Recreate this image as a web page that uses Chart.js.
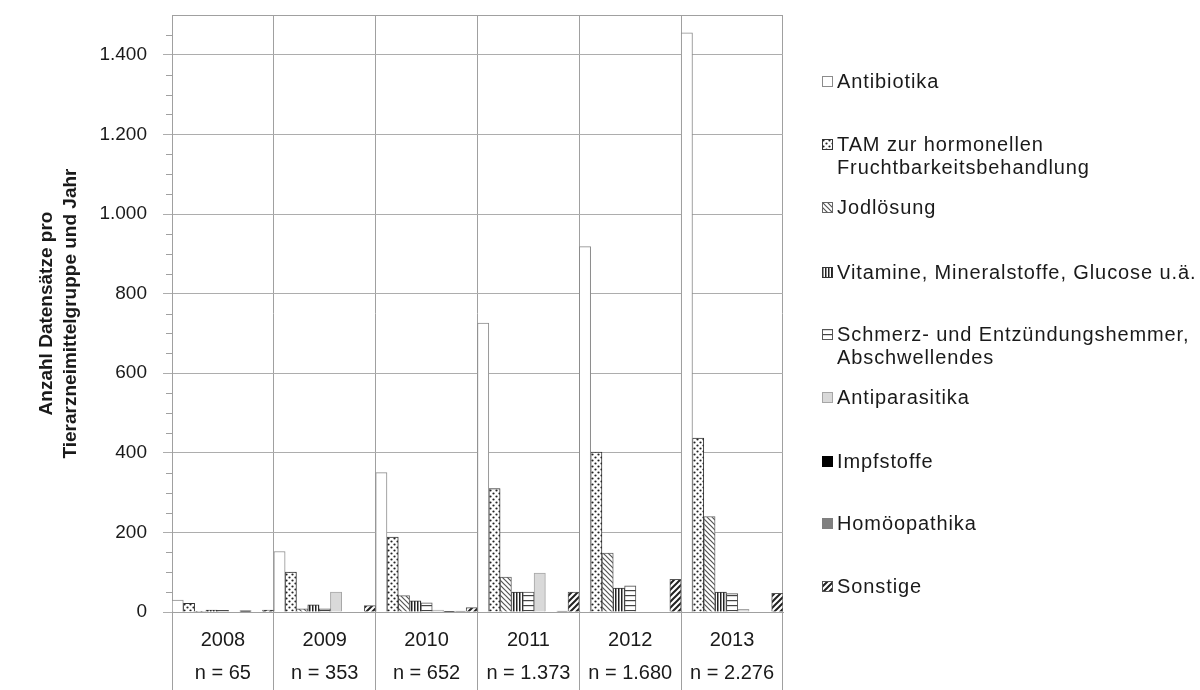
<!DOCTYPE html>
<html><head><meta charset="utf-8">
<script src="https://cdn.jsdelivr.net/npm/chart.js@4.4.1/dist/chart.umd.min.js"></script>
<style>
html,body{margin:0;padding:0;background:#fff;}
#wrap{position:relative;width:1200px;height:690px;overflow:hidden;}
#c{position:absolute;left:0;top:0;}
.lg{position:absolute;left:822px;font-family:"Liberation Sans",Arial,sans-serif;font-size:20px;letter-spacing:0.9px;color:#1a1a1a;line-height:23px;}
.lg canvas{position:absolute;left:0;top:6px;}
.lg span{position:absolute;left:15px;top:0;white-space:nowrap;}
</style></head><body>
<div id="wrap"><canvas id="c" width="1200" height="690"></canvas><div id="legend"></div></div>
<script>
const years = ['2008','2009','2010','2011','2012','2013'];
const counts = ['n = 65','n = 353','n = 652','n = 1.373','n = 1.680','n = 2.276'];
const seriesNames = ['Antibiotika','TAM zur hormonellen\nFruchtbarkeitsbehandlung','Jodlösung','Vitamine, Mineralstoffe, Glucose u.ä.','Schmerz- und Entzündungshemmer,\nAbschwellendes','Antiparasitika','Impfstoffe','Homöopathika','Sonstige'];
const antibiotika    = [30, 152, 350, 726, 918, 1455];
const tam            = [22, 100, 188, 310, 402, 437];
const jodloesung     = [1, 8, 41, 88, 148, 240];
const vitamine       = [5, 18, 28, 50, 60, 50];
const schmerz        = [4, 8, 23, 50, 66, 46];
const antiparasitika = [0, 50, 5, 98, 0, 7];
const impfstoffe     = [3, 0, 1, 0, 0, 0];
const homoeopathika  = [0, 0, 2, 2, 0, 0];
const sonstige       = [5, 16, 11, 50, 82, 47];
const yTitle = ['Anzahl Datensätze pro','Tierarzneimittelgruppe und Jahr'];

const FONT = '"Liberation Sans", Arial, sans-serif';

function tile(w,h,draw){const c=document.createElement('canvas');c.width=w;c.height=h;const x=c.getContext('2d');x.fillStyle='#fff';x.fillRect(0,0,w,h);draw(x);return c;}
function pat(ctx,t){return ctx.createPattern(t,'repeat');}
const tiles = {
  dots: tile(6,6,x=>{x.fillStyle='#222';x.beginPath();x.arc(1.5,1.5,1.1,0,Math.PI*2);x.fill();x.beginPath();x.arc(4.5,4.5,1.1,0,Math.PI*2);x.fill();}),
  back: tile(5,5,x=>{x.strokeStyle='#555';x.lineWidth=1.2;x.beginPath();x.moveTo(-1,-1);x.lineTo(6,6);x.moveTo(-1,4);x.lineTo(1,6);x.moveTo(4,-1);x.lineTo(6,1);x.stroke();}),
  vert: tile(3,1,x=>{x.fillStyle='#222';x.fillRect(0,0,1.5,1);}),
  horiz: tile(1,5,x=>{x.fillStyle='#444';x.fillRect(0,0,1,1.2);}),
  fwd: tile(6,6,x=>{x.strokeStyle='#222';x.lineWidth=2;x.beginPath();x.moveTo(-1,7);x.lineTo(7,-1);x.moveTo(-1,1);x.lineTo(1,-1);x.moveTo(5,7);x.lineTo(7,5);x.stroke();})
};
const cctx = document.getElementById('c').getContext('2d');
function fills(ctx){return [
  '#ffffff', pat(ctx,tiles.dots), pat(ctx,tiles.back), pat(ctx,tiles.vert), pat(ctx,tiles.horiz),
  '#d9d9d9', '#000000', '#808080', pat(ctx,tiles.fwd)];}
const borders = ['#8c8c8c','#333333','#666666','#333333','#555555','#a6a6a6','#000000','#7f7f7f','#555555'];
const values = [antibiotika,tam,jodloesung,vitamine,schmerz,antiparasitika,impfstoffe,homoeopathika,sonstige];
const chartFills = fills(cctx);

function fmt(v){return String(v).replace(/\B(?=(\d{3})+(?!\d))/g,'.');}

const extras = {
  id:'extras',
  afterDraw(chart){
    const y=chart.scales.y, a=chart.chartArea, ctx=chart.ctx;
    ctx.save(); ctx.strokeStyle='#a0a0a0'; ctx.lineWidth=1;
    for(let v=50; v<1500; v+=50){
      if(v%200===0) continue;
      const py=Math.round(y.getPixelForValue(v))+0.5;
      ctx.beginPath(); ctx.moveTo(a.left-6,py); ctx.lineTo(a.left,py); ctx.stroke();
    }
    ctx.beginPath(); ctx.moveTo(a.left,Math.round(a.top)+0.5); ctx.lineTo(a.right,Math.round(a.top)+0.5); ctx.stroke();
    ctx.restore();
  }
};

new Chart(cctx,{
  type:'bar',
  data:{
    labels: years.map((y,i)=>[y,counts[i]]),
    datasets: values.map((d,i)=>({label:seriesNames[i].replace('\n',' '),data:d,backgroundColor:chartFills[i],borderColor:borders[i],borderWidth:1}))
  },
  options:{
    responsive:false, animation:false, devicePixelRatio:1,
    layout:{padding:{top:15,right:417,left:0,bottom:0}},
    plugins:{legend:{display:false},tooltip:{enabled:false}},
    datasets:{bar:{categoryPercentage:1,barPercentage:1}},
    scales:{
      x:{
        grid:{offset:true,color:'#a0a0a0',lineWidth:1,drawTicks:true,tickLength:78},
        border:{color:'#a0a0a0'},
        ticks:{padding:-66.5,font:{family:FONT,size:20,lineHeight:1.65},color:'#1a1a1a',maxRotation:0,autoSkip:false},
        afterFit:s=>{s.height=78;s.paddingLeft=0;s.paddingRight=0;}
      },
      y:{
        min:0,max:1500,
        afterBuildTicks:s=>{s.ticks=s.ticks.filter(t=>t.value%200===0);},
        ticks:{stepSize:200,padding:16,font:{family:FONT,size:19},color:'#1a1a1a',callback:v=>fmt(v)},
        grid:{color:'#adadad',tickLength:9,drawTicks:true},
        border:{color:'#a0a0a0'},
        title:{display:true,text:yTitle,font:{family:FONT,size:19,weight:'bold',lineHeight:1.26},padding:{top:35,bottom:0},color:'#1a1a1a'},
        afterFit:s=>{s.width=172;s.paddingTop=0;s.paddingBottom=0;}
      }
    }
  },
  plugins:[extras]
});

// HTML legend
const legendTops = [70,133,196,261,323,386,450,512,575];
const lg = document.getElementById('legend');
seriesNames.forEach((name,i)=>{
  const d=document.createElement('div'); d.className='lg'; d.style.top=legendTops[i]+'px';
  const m=document.createElement('canvas'); m.width=11; m.height=11;
  const mx=m.getContext('2d'); mx.fillStyle=fills(mx)[i]; mx.fillRect(0,0,11,11);
  mx.strokeStyle=borders[i]; mx.lineWidth=1; mx.strokeRect(0.5,0.5,10,10);
  d.appendChild(m);
  const s=document.createElement('span'); s.innerHTML=name.split('\n').join('<br>');
  d.appendChild(s); lg.appendChild(d);
});
</script>
</body></html>
